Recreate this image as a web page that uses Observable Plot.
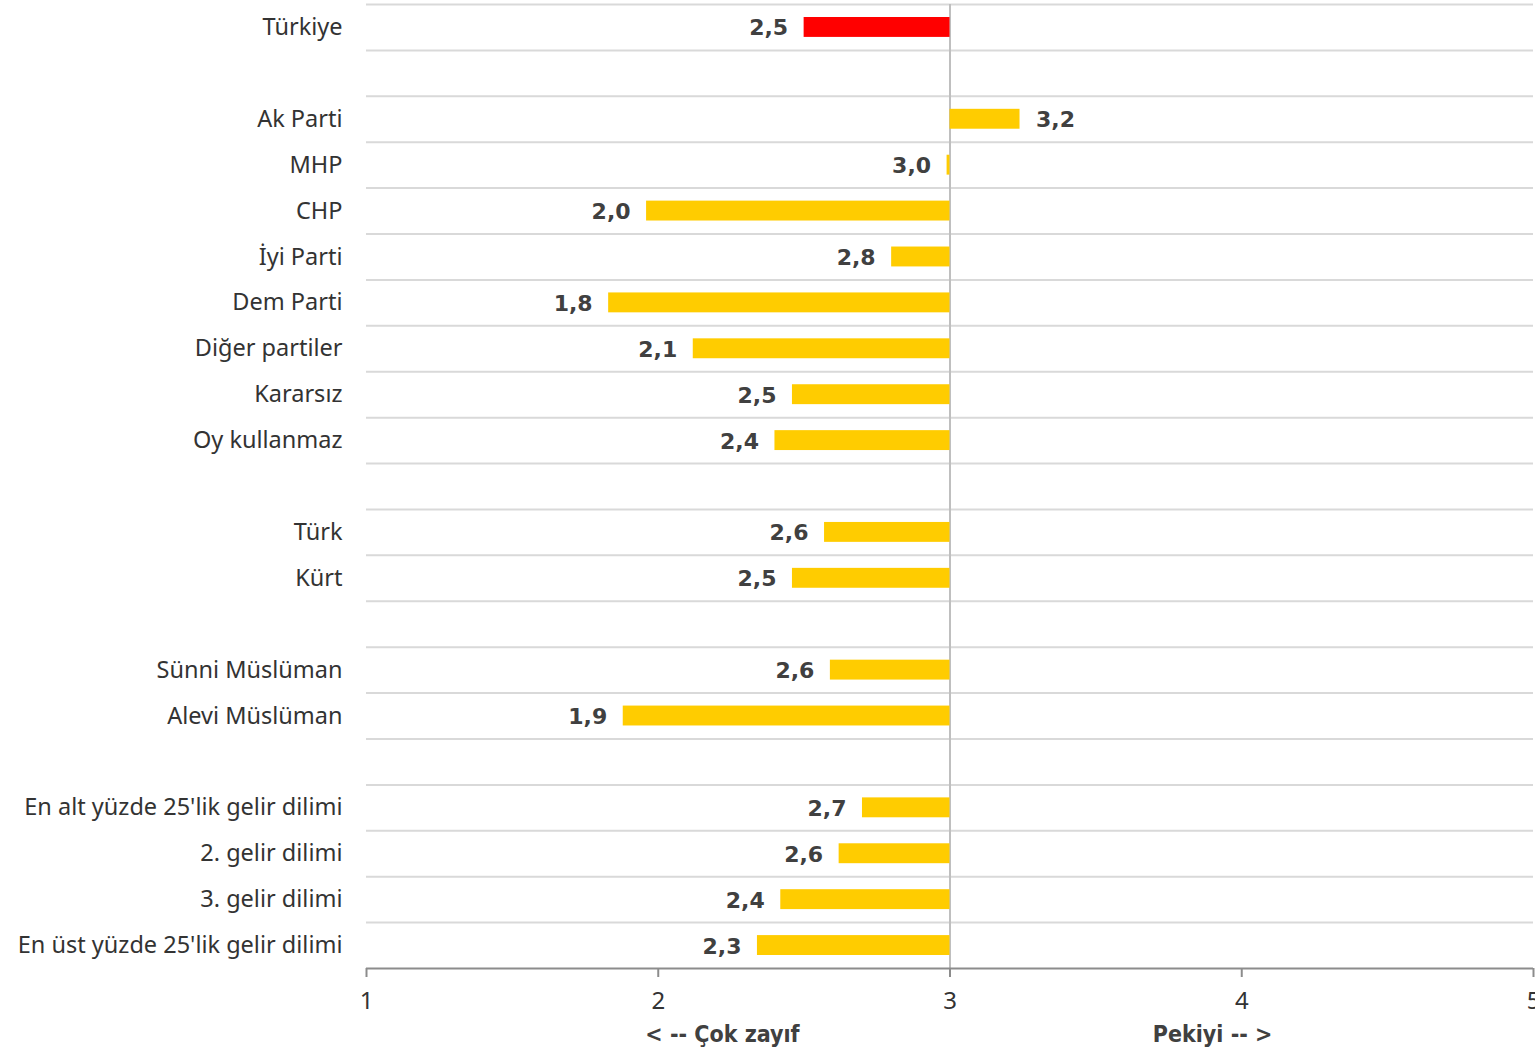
<!DOCTYPE html>
<html>
<head>
<meta charset="utf-8">
<script src="https://cdn.jsdelivr.net/npm/d3@7"></script>
<script src="https://cdn.jsdelivr.net/npm/@observablehq/plot@0.6"></script>
<style>
  body { margin: 0; background: #fff; }
  #chart svg { display: block; }
</style>
</head>
<body>
<div id="chart"></div>
<script>
// Row order (blank strings are spacer rows between groups)
const rowOrder = [
  "Türkiye", " ",
  "Ak Parti", "MHP", "CHP", "İyi Parti", "Dem Parti", "Diğer partiler", "Kararsız", "Oy kullanmaz", "  ",
  "Türk", "Kürt", "   ",
  "Sünni Müslüman", "Alevi Müslüman", "    ",
  "En alt yüzde 25'lik gelir dilimi", "2. gelir dilimi", "3. gelir dilimi", "En üst yüzde 25'lik gelir dilimi"
];
const categories = [
  "Türkiye", "Ak Parti", "MHP", "CHP", "İyi Parti", "Dem Parti", "Diğer partiler", "Kararsız", "Oy kullanmaz",
  "Türk", "Kürt", "Sünni Müslüman", "Alevi Müslüman",
  "En alt yüzde 25'lik gelir dilimi", "2. gelir dilimi", "3. gelir dilimi", "En üst yüzde 25'lik gelir dilimi"
];
const values = [2.50, 3.24, 2.99, 1.96, 2.80, 1.83, 2.12, 2.46, 2.40, 2.57, 2.46, 2.59, 1.88, 2.70, 2.62, 2.42, 2.34];
const xTicks = [1, 2, 3, 4, 5];
const axisNotes = ["< -- Çok zayıf", "Pekiyi -- >"];
const axisNoteX = [2.22, 3.9];
const midpoint = 3;

const data = categories.map((c, i) => ({ name: c, value: values[i], label: values[i].toFixed(1).replace(".", ",") }));
const notes = axisNotes.map((t, i) => ({ text: t, x: axisNoteX[i] }));

const W = 1535, H = 1049, mT = 4, mB = 81, mL = 366, mR = 2;
const bw = (H - mT - mB) / rowOrder.length;
const valueFont = "'DejaVu Sans', Verdana, sans-serif";

const chart = Plot.plot({
  width: W, height: H,
  marginTop: mT, marginBottom: mB, marginLeft: mL, marginRight: mR,
  style: { fontFamily: "'Noto Sans', 'Open Sans', sans-serif", background: "#fff", color: "#333" },
  x: { type: "linear", domain: [1, 5], axis: null },
  y: { domain: rowOrder, padding: 0, round: false, axis: null },
  marks: [
    // horizontal gridlines at band edges
    Plot.ruleY(rowOrder, { y: d => d, dy: -bw / 2, stroke: "#d9d9d9", strokeWidth: 2 }),
    // vertical line at the midpoint
    Plot.ruleX([midpoint], { stroke: "#bfbfbf", strokeWidth: 2 }),
    // bars
    Plot.barX(data, {
      y: "name", x1: midpoint, x2: "value",
      fill: d => d.name === "Türkiye" ? "#ff0000" : "#ffcc00",
      insetTop: 13, insetBottom: 13
    }),
    // value labels (left of bars below the midpoint, right of bars above it)
    Plot.text(data.filter(d => d.value < midpoint), {
      y: "name", x: "value", text: "label", textAnchor: "end", dx: -16, dy: 1,
      fontSize: 22, fontWeight: "bold", fill: "#404040", fontFamily: valueFont
    }),
    Plot.text(data.filter(d => d.value >= midpoint), {
      y: "name", x: "value", text: "label", textAnchor: "start", dx: 16, dy: 1,
      fontSize: 22, fontWeight: "bold", fill: "#404040", fontFamily: valueFont
    }),
    // category labels
    Plot.axisY({ label: null, tickSize: 0, tickPadding: 24, fontSize: 23.5, fill: "#333", textAnchor: "end" }),
    // bottom axis line
    Plot.ruleY([rowOrder[rowOrder.length - 1]], { dy: bw / 2, stroke: "#8c8c8c", strokeWidth: 2 }),
    Plot.axisX({ ticks: xTicks, label: null, tickSize: 9, tickPadding: 14, fontSize: 24, stroke: "#8c8c8c", strokeWidth: 2, fill: "#333", tickFormat: d => String(d) }),
    // axis notes
    Plot.text(notes, {
      x: "x", text: "text", frameAnchor: "bottom", dy: 73,
      fontSize: 23, fontWeight: "bold", fill: "#404040",
      fontFamily: "'Liberation Sans Narrow', 'DejaVu Sans Condensed', 'Roboto', sans-serif"
    })
  ]
});
document.getElementById("chart").appendChild(chart);
</script>
</body>
</html>
